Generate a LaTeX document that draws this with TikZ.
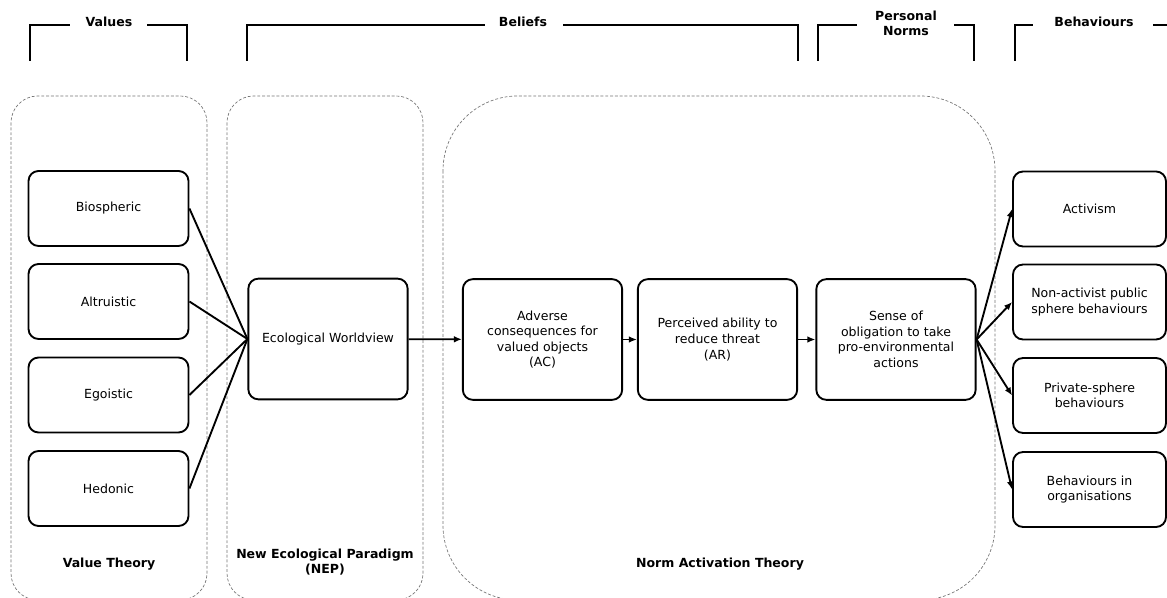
\documentclass[tikz,border=0pt]{standalone}
\usepackage{fontspec}
\setmainfont{DejaVu Sans}
\usetikzlibrary{arrows.meta}
\begin{document}
\begin{tikzpicture}[x=0.75pt,y=-0.75pt,
  box/.style={draw, line width=1.4pt, rounded corners=7.5pt, align=center, inner sep=2pt,
    font=\fontsize{9.4}{11.7}\selectfont},
  valbox/.style={box, minimum width=120pt, minimum height=56.25pt},
  behbox/.style={box, minimum width=114.75pt, minimum height=56.25pt},
  bigbox/.style={box, minimum width=119.5pt, minimum height=90.5pt},
  container/.style={draw=black!55, line width=0.5pt, dash pattern=on 2.2pt off 1.4pt},
  bracket/.style={line width=1.4pt},
  head/.style={font=\bfseries\fontsize{9.4}{11}\selectfont, align=center},
  theory/.style={font=\bfseries\fontsize{9.4}{11.5}\selectfont, align=center},
  link/.style={line width=1.4pt},
  arr/.style={line width=1.4pt, -{Latex[length=6pt,width=5pt]}}]
\useasboundingbox (0,0) rectangle (1167,598);
\clip (0,0) rectangle (1167,598);

% brackets
\draw[bracket] (30,61) -- (30,25) -- (70,25);
\draw[bracket] (147,25) -- (187,25) -- (187,61);
\node[head] (hval) at (109,22) {Values};
\draw[bracket] (247,61) -- (247,25) -- (485,25);
\draw[bracket] (563,25) -- (798,25) -- (798,61);
\node[head] (hbel) at (523,22) {Beliefs};
\draw[bracket] (818,61) -- (818,25) -- (857,25);
\draw[bracket] (954,25) -- (974,25) -- (974,61);
\node[head] (hpn) at (906,23) {Personal\\Norms};
\draw[bracket] (1015,61) -- (1015,25) -- (1033,25);
\draw[bracket] (1153,25) -- (1170,25);
\node[head] (hbeh) at (1094,22) {Behaviours};

% containers
\draw[container, rounded corners=20pt] (11,96) rectangle (207,600);
\draw[container, rounded corners=20pt] (227,96) rectangle (423,600);
\draw[container, rounded corners=56pt] (443,96) rectangle (995,600);

\node[theory] (tvt) at (109,564) {Value Theory};
\node[theory] (tnep) at (325,562) {New Ecological Paradigm\\(NEP)};
\node[theory] (tnat) at (720,564) {Norm Activation Theory};

% value boxes
\node[valbox] (bio) at (108.5,208.5) {Biospheric};
\node[valbox] (alt) at (108.5,301.5) {Altruistic};
\node[valbox] (ego) at (108.5,395) {Egoistic};
\node[valbox] (hed) at (108.5,488.5) {Hedonic};

% chain
\node[bigbox] (ew) at (328,339) {Ecological Worldview};
\node[bigbox] (ac) at (542.5,339.5) {Adverse\\consequences for\\valued objects\\(AC)};
\node[bigbox] (ar) at (717.5,339.5) {Perceived ability to\\reduce threat\\(AR)};
\node[bigbox] (sn) at (896,339.5) {Sense of\\obligation to take\\pro-environmental\\actions};

% behaviours
\node[behbox] (act) at (1089.5,209) {Activism};
\node[behbox] (nap) at (1089.5,302) {Non-activist public\\sphere behaviours};
\node[behbox] (prv) at (1089.5,395.5) {Private-sphere\\behaviours};
\node[behbox] (org) at (1089.5,489.5) {Behaviours in\\organisations};

% connectors
\draw[link] (bio.east) -- (ew.west);
\draw[link] (alt.east) -- (ew.west);
\draw[link] (ego.east) -- (ew.west);
\draw[link] (hed.east) -- (ew.west);
\draw[arr] (ew) -- (ac);
\draw[arr] (ac) -- (ar);
\draw[arr] (ar) -- (sn);
\draw[arr] (sn.east) -- (act.west);
\draw[arr] (sn.east) -- (nap.west);
\draw[arr] (sn.east) -- (prv.west);
\draw[arr] (sn.east) -- (org.west);
\end{tikzpicture}
\end{document}
